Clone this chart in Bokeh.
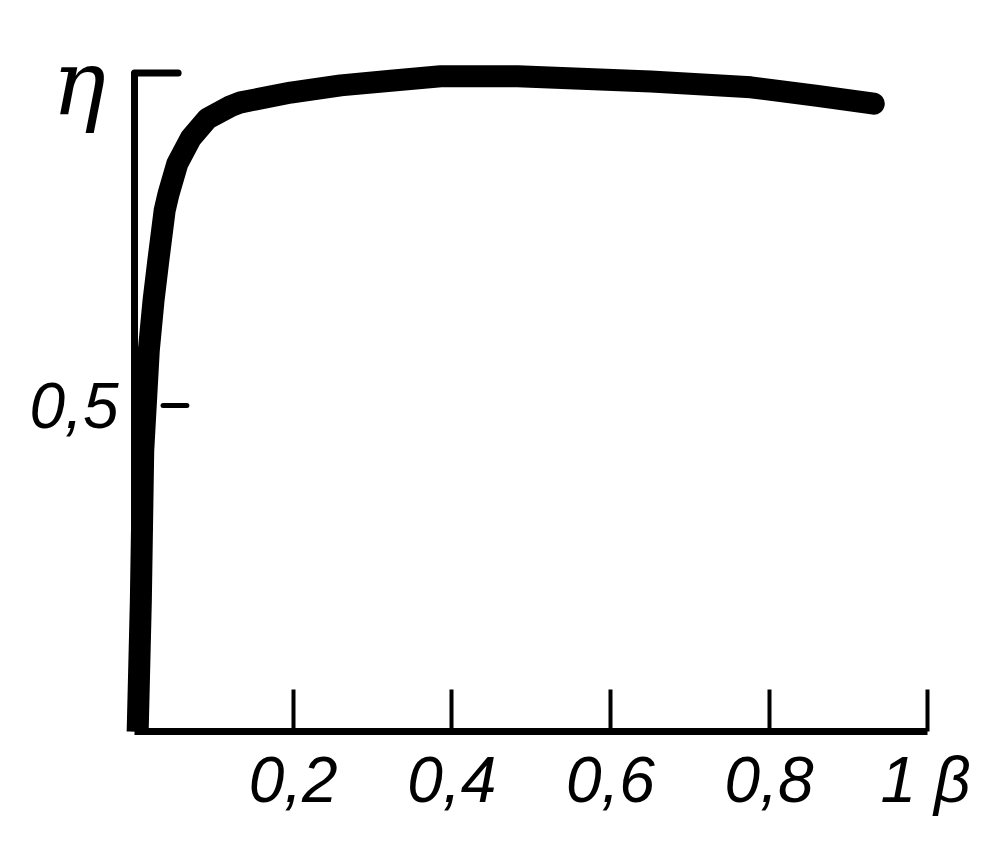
from bokeh.plotting import figure
from bokeh.models import Range1d, FixedTicker, ColumnDataSource
from bokeh.core.properties import value
from bokeh.embed import file_html
from bokeh.resources import INLINE

# data: efficiency eta vs beta
beta = [0.004, 0.008, 0.011, 0.018, 0.024, 0.030, 0.038, 0.043, 0.054, 0.071,
        0.092, 0.121, 0.134, 0.197, 0.260, 0.323, 0.386, 0.483, 0.651, 0.777,
        0.861, 0.932]
eta = [0.000, 0.200, 0.430, 0.584, 0.661, 0.722, 0.799, 0.825, 0.871, 0.910,
       0.940, 0.959, 0.965, 0.980, 0.991, 0.998, 1.005, 1.005, 0.997, 0.988,
       0.975, 0.963]

x_ticks = [0.2, 0.4, 0.6, 0.8, 1.0]
x_tick_labels = ["0,2", "0,4", "0,6", "0,8", "1 β"]
y_ticks = [0.5]
y_tick_labels = ["0,5"]
y_name = "η"

FONT = "Liberation Sans"

p = figure(width=970, height=832, output_backend="svg", toolbar_location=None,
           x_range=Range1d(-0.1538, 1.030), y_range=Range1d(0, 1.0445),
           min_border_left=12, min_border_right=19, min_border_top=50,
           min_border_bottom=101)
p.outline_line_color = None
p.xgrid.visible = False
p.ygrid.visible = False
p.background_fill_color = "white"
p.border_fill_color = "white"

# x axis
xa = p.xaxis[0]
xa.ticker = FixedTicker(ticks=x_ticks)
xa.major_label_overrides = {t: s for t, s in zip(x_ticks, x_tick_labels)}
xa.bounds = (0, 1.0)
xa.axis_line_width = 7
xa.axis_line_color = "black"
xa.major_tick_in = 42
xa.major_tick_out = 0
xa.major_tick_line_width = 4
xa.major_tick_line_color = "black"
xa.minor_tick_line_color = None
xa.major_label_text_font = FONT
xa.major_label_text_font_style = "italic"
xa.major_label_text_font_size = "64px"
xa.major_label_text_color = "black"
xa.major_label_standoff = 12

# y axis, drawn at beta = 0
ya = p.yaxis[0]
ya.fixed_location = 0
ya.ticker = FixedTicker(ticks=y_ticks)
ya.major_label_overrides = {t: s for t, s in zip(y_ticks, y_tick_labels)}
ya.bounds = (0, 1.01)
ya.axis_line_width = 7
ya.axis_line_color = "black"
ya.major_tick_in = 0
ya.major_tick_out = 0
ya.minor_tick_line_color = None
ya.major_label_orientation = "horizontal"
ya.major_label_text_font = FONT
ya.major_label_text_font_style = "italic"
ya.major_label_text_font_size = "64px"
ya.major_label_text_color = "black"
ya.major_label_standoff = 16

# top bracket of the y axis and detached tick mark at 0.5
p.segment(x0=[0], y0=[1.01], x1=[0.055], y1=[1.01], line_width=7,
          line_color="black", line_cap="round")
p.segment(x0=[0.036] * len(y_ticks), y0=y_ticks, x1=[0.066] * len(y_ticks),
          y1=y_ticks, line_width=5, line_color="black", line_cap="round")

# the curve
src = ColumnDataSource(dict(x=beta, y=eta))
p.line("x", "y", source=src, line_width=22, line_color="black",
       line_join="round", line_cap="round")

# eta axis name
p.text(x=[-0.070], y=[0.995], text=[y_name], text_font=value("DejaVu Serif"),
       text_font_style="italic", text_font_size="90px", text_align="center",
       text_baseline="middle", text_color="black")

open("out.html", "w").write(file_html(p, INLINE))
